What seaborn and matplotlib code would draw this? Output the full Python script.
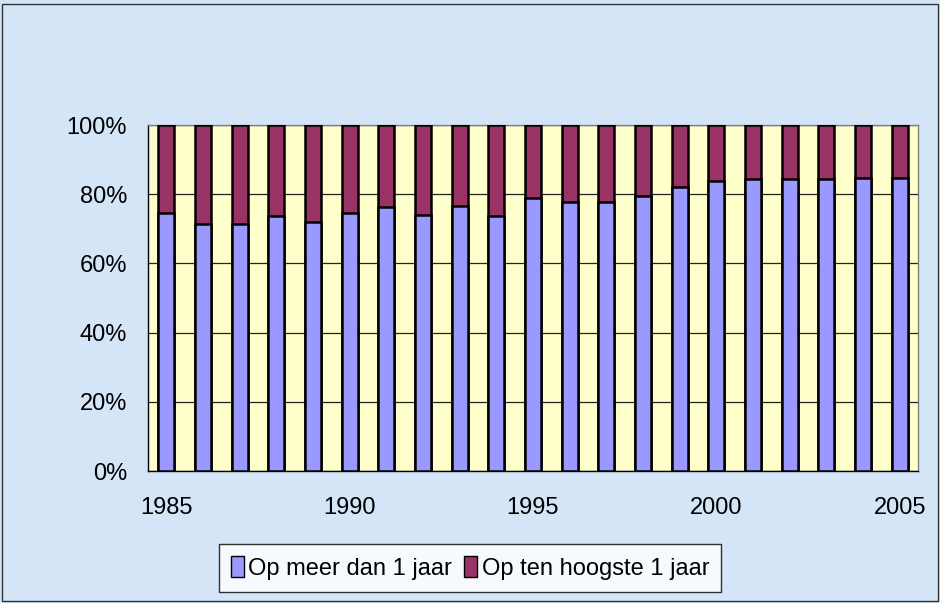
import matplotlib
matplotlib.use("Agg")
import matplotlib.pyplot as plt
import seaborn as sns
import pandas as pd
from matplotlib.patches import Patch, Rectangle
from matplotlib.ticker import FixedLocator, FuncFormatter

years = list(range(1985, 2006))
meer_dan_1_jaar = [74.7, 71.5, 71.4, 73.6, 71.9, 74.7, 76.3, 74.1, 76.7, 73.6,
                   79.0, 77.8, 77.8, 79.5, 82.2, 83.8, 84.3, 84.3, 84.4, 84.8, 84.8]
ten_hoogste_1_jaar = [100 - v for v in meer_dan_1_jaar]
series_names = ["Op meer dan 1 jaar", "Op ten hoogste 1 jaar"]
yticks = [0, 20, 40, 60, 80, 100]

sns.set_style("white")
plt.rcParams['font.family'] = ['Liberation Sans', 'DejaVu Sans']
plt.rcParams['text.color'] = 'black'
plt.rcParams['xtick.color'] = 'black'
plt.rcParams['ytick.color'] = 'black'

df = pd.DataFrame({"jaar": [str(y) for y in years],
                   "meer": meer_dan_1_jaar,
                   "hoogste": ten_hoogste_1_jaar})
df["totaal"] = df["meer"] + df["hoogste"]

fig = plt.figure(figsize=(9.4, 6.03), dpi=100)
fig.patch.set_facecolor("#d5e5f8")
fig.patches.append(Rectangle((0.002, 0.003), 0.996, 0.99, transform=fig.transFigure,
                             fill=False, edgecolor="#333333", linewidth=1.0))
ax = fig.add_axes([0.1574, 0.2189, 0.8192, 0.5738])
ax.set_facecolor("#ffffcc")

blue = "#9999ff"
maroon = "#993366"
sns.barplot(data=df, x="jaar", y="totaal", color=maroon, width=0.44, saturation=1,
            edgecolor="black", linewidth=1.8, ax=ax, zorder=3)
sns.barplot(data=df, x="jaar", y="meer", color=blue, width=0.44, saturation=1,
            edgecolor="black", linewidth=1.8, ax=ax, zorder=4)

ax.set_xlim(-0.5, len(years) - 0.5)
ax.set_ylim(0, 100)
ax.set_yticks(yticks)
ax.yaxis.set_major_formatter(FuncFormatter(lambda v, p: f"{int(v)}%"))
ax.grid(axis="y", color="#222222", linewidth=0.9, zorder=1)
ax.set_axisbelow(True)

major = [i for i, y in enumerate(years) if y % 5 == 0]
ax.set_xticks(major)
ax.set_xticklabels([str(years[i]) for i in major])
ax.xaxis.set_minor_locator(FixedLocator([i - 0.5 for i in range(len(years) + 1)]))
ax.tick_params(axis="x", which="major", length=0, pad=19, labelsize=17, labelcolor="black")
ax.tick_params(axis="x", which="minor", length=6, width=1, color="black", direction="out")
ax.tick_params(axis="y", length=6, width=1, color="black", direction="out", labelsize=17,
               pad=9, labelcolor="black")
ax.set_xlabel("")
ax.set_ylabel("")

for side in ["top", "right"]:
    ax.spines[side].set_color("#808080")
    ax.spines[side].set_linewidth(1.0)
for side in ["left", "bottom"]:
    ax.spines[side].set_color("black")
    ax.spines[side].set_linewidth(1.0)

handles = [Patch(facecolor=blue, edgecolor="black", label=series_names[0]),
           Patch(facecolor=maroon, edgecolor="black", label=series_names[1])]
leg = fig.legend(handles=handles, loc="center", bbox_to_anchor=(0.5, 0.058), ncol=2,
                 fontsize=17, frameon=True, fancybox=False, edgecolor="black",
                 handlelength=0.55, handleheight=1.0, handletextpad=0.2, columnspacing=0.5,
                 borderpad=0.5, borderaxespad=0)
leg.get_frame().set_linewidth(1.0)
leg.get_frame().set_facecolor("white")
for t in leg.get_texts():
    t.set_color("black")

fig.savefig("out.png", dpi=100, facecolor=fig.get_facecolor())
